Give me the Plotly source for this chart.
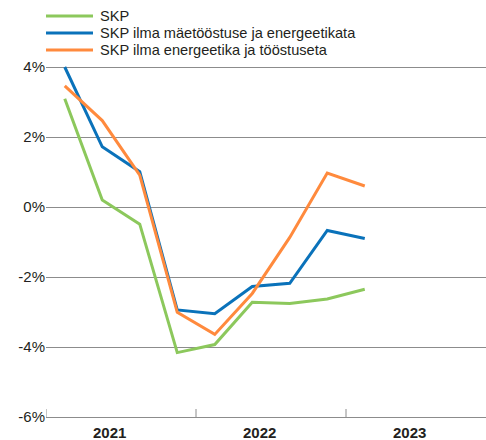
import plotly.graph_objects as go

quarters = ["2021Q1", "2021Q2", "2021Q3", "2021Q4", "2022Q1", "2022Q2", "2022Q3", "2022Q4", "2023Q1"]
skp = [3.09, 0.2, -0.49, -4.16, -3.93, -2.72, -2.76, -2.63, -2.35]
skp_no_mining_energy = [4.0, 1.72, 1.01, -2.94, -3.05, -2.27, -2.18, -0.67, -0.9]
skp_no_energy_industry = [3.46, 2.47, 0.91, -3.01, -3.64, -2.47, -0.87, 0.97, 0.6]
names = ["SKP", "SKP ilma mäetööstuse ja energeetikata", "SKP ilma energeetika ja tööstuseta"]
colors = ["#8cc85c", "#0a72ba", "#ff8a3d"]
year_labels = ["2021", "2022", "2023"]
year_label_pos = [1.2, 5.2, 9.2]
y_ticks = [-6, -4, -2, 0, 2, 4]

W, H = 486, 440
L, R, T, B = 46, 0, 57, 23
pw, ph = W - L - R, H - T - B

x_idx = list(range(len(quarters)))
fig = go.Figure()
for name, vals, col in zip(names, [skp, skp_no_mining_energy, skp_no_energy_industry], colors):
    fig.add_trace(go.Scatter(x=x_idx, y=vals, mode="lines", name=name,
                             line=dict(color=col, width=3), showlegend=False))

font = dict(family="Liberation Sans, Arial, sans-serif", size=15, color="#231f20")
grid = "#8c8c8c"

xr0 = -0.5
xr1 = xr0 + pw / 37.5
yr0 = -6
yr1 = yr0 + ph / 35.0

fig.update_layout(
    width=W, height=H,
    margin=dict(l=L, r=R, t=T, b=B, pad=0, autoexpand=False),
    paper_bgcolor="white", plot_bgcolor="white",
    font=font,
    showlegend=False,
    xaxis=dict(range=[xr0, xr1], showgrid=False, zeroline=False,
               showticklabels=False, ticks="", showline=True, linecolor=grid, linewidth=1,
               automargin=False),
    yaxis=dict(range=[yr0, yr1], tickvals=y_ticks,
               ticktext=["%d%%" % v for v in y_ticks],
               showgrid=True, gridcolor=grid, gridwidth=1,
               zeroline=False, ticks="", showline=False, automargin=False,
               tickfont=dict(size=15, color="#231f20")),
)

def px_to_paper_x(px):
    return (px - L) / pw

def px_to_paper_y(py):
    return (H - B - py) / ph

# year labels
for lab, pos in zip(year_labels, year_label_pos):
    fig.add_annotation(xref="x", yref="paper", x=pos, y=px_to_paper_y(432),
                       text="<b>%s</b>" % lab, showarrow=False, xanchor="center", yanchor="middle",
                       font=dict(size=15, color="#231f20"))

# year separator ticks
for xv in [-0.5, 3.5, 7.5]:
    fig.add_shape(type="line", xref="x", yref="y", x0=xv, x1=xv, y0=-6, y1=-6 + 8 / 35.0,
                  line=dict(color=grid, width=1))

# manual legend
for i, (name, col) in enumerate(zip(names, colors)):
    yp = 16 + i * 17
    fig.add_shape(type="line", xref="paper", yref="paper",
                  x0=px_to_paper_x(46), x1=px_to_paper_x(93),
                  y0=px_to_paper_y(yp), y1=px_to_paper_y(yp),
                  line=dict(color=col, width=3))
    fig.add_annotation(xref="paper", yref="paper", x=px_to_paper_x(98), y=px_to_paper_y(yp),
                       text=name, showarrow=False, xanchor="left", yanchor="middle",
                       font=dict(size=14.6, color="#231f20"))

fig.write_html("out.html", config={"displayModeBar": False},
               post_script="document.body.style.margin='0';document.body.style.overflow='hidden';")
